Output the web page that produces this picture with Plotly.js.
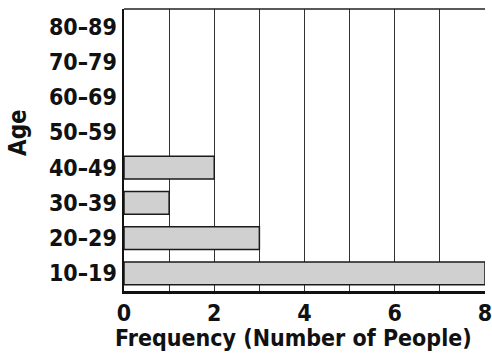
<!DOCTYPE html>
<html><head><meta charset="utf-8">
<script src="https://cdn.plot.ly/plotly-3.0.1.min.js"></script>
<style>html,body{margin:0;padding:0;background:#fff}#chart{width:492px;height:354px}</style>
</head><body><div id="chart"></div>
<script>
const ageGroups = ['10–19','20–29','30–39','40–49','50–59','60–69','70–79','80–89'];
const frequency = [8, 3, 1, 2, 0, 0, 0, 0];
const xTickVals = [0,1,2,3,4,5,6,7,8];
const xTickText = ['0','','2','','4','','6','','8'];
const xTitle = 'Frequency (Number of People)';
const yTitle = 'Age';

const FONT = '"DejaVu Sans Condensed", "Liberation Sans Narrow", sans-serif';

const trace = {
  type: 'bar', orientation: 'h',
  y: ageGroups, x: frequency,
  marker: {color: '#d0d0d0', line: {color: '#1a1a1a', width: frequency.map(v => v > 0 ? 1.5 : 0)}},
  width: 0.65,
  hoverinfo: 'skip'
};

const layout = {
  width: 492, height: 354,
  margin: {l: 124, r: 7, t: 9, b: 63},
  paper_bgcolor: '#fff', plot_bgcolor: '#fff',
  showlegend: false,
  font: {family: FONT, color: '#111', size: 22, weight: 'bold'},
  xaxis: {
    range: [0, 8], tickvals: xTickVals, ticktext: xTickText,
    showgrid: true, gridcolor: '#333', gridwidth: 1,
    zeroline: false, showline: true, linecolor: '#111', linewidth: 2.5,
    ticks: '', ticklabelstandoff: 0, ticklabeloverflow: 'allow',
    tickfont: {family: FONT, size: 23, color: '#111', weight: 'bold'},
    fixedrange: true
  },
  yaxis: {
    type: 'category', categoryorder: 'array', categoryarray: ageGroups,
    range: [-0.5, 7.5],
    showgrid: false, zeroline: false, showline: true, linecolor: '#111', linewidth: 2.5,
    ticks: '', ticklabelstandoff: 0,
    tickfont: {family: FONT, size: 23, color: '#111', weight: 'bold'},
    fixedrange: true
  },
  shapes: [
    {type: 'line', xref: 'paper', yref: 'paper', x0: 0, x1: 1, y0: 1, y1: 1, line: {color: '#222', width: 1.5}}
  ],
  annotations: [
    {text: xTitle, xref: 'paper', yref: 'paper', x: 0.47, y: 0, yshift: -47, xanchor: 'center', yanchor: 'middle', showarrow: false,
     font: {family: FONT, size: 23, color: '#111', weight: 'bold'}},
    {text: yTitle, xref: 'paper', yref: 'paper', x: 0, xshift: -106, y: 0.56, xanchor: 'center', yanchor: 'middle', textangle: -90, showarrow: false,
     font: {family: FONT, size: 24, color: '#111', weight: 'bold'}}
  ]
};

Plotly.newPlot('chart', [trace], layout, {staticPlot: true, displayModeBar: false});
</script>
</body></html>
